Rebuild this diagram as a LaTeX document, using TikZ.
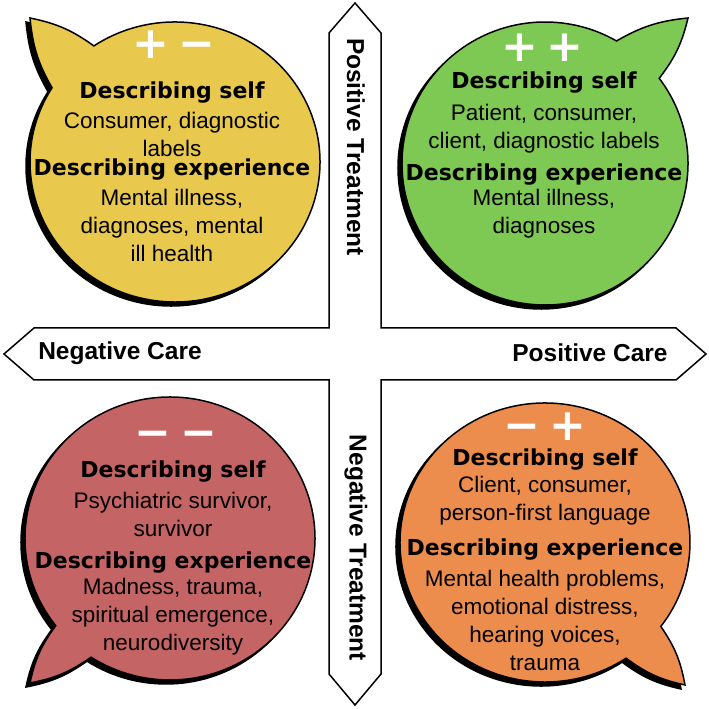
\documentclass[tikz,border=0pt]{standalone}
\usepackage{fontspec}
\setmainfont{Liberation Sans}
\newfontfamily\heavyfont{DejaVu Sans}
\usetikzlibrary{positioning}

\definecolor{quadyellow}{RGB}{233,200,78}
\definecolor{quadgreen}{RGB}{126,201,83}
\definecolor{quadred}{RGB}{197,100,100}
\definecolor{quadorange}{RGB}{236,141,77}

\begin{document}
\begin{tikzpicture}[x=1pt,y=1pt,
  head/.style={font=\heavyfont\bfseries\fontsize{22}{26}\selectfont, inner sep=0pt},
  body/.style={font=\fontsize{22.5}{28}\selectfont, align=center, inner sep=0pt},
  axis/.style={font=\bfseries\fontsize{24.5}{28}\selectfont, inner sep=0pt},
  sign/.style={font=\heavyfont\bfseries\fontsize{44}{44}\selectfont, text=white, inner sep=0pt}]
\useasboundingbox (0,0) rectangle (709,709);

% the cross of the two axes
\draw[line width=1.5pt, fill=white] (355,706) -- (381,676) -- (381,381) -- (676,381) -- (706,355) -- (676,329) -- (381,329) -- (381,35) -- (355,4) -- (329,35) -- (329,329) -- (34,329) -- (4,355) -- (34,381) -- (329,381) -- (329,676) -- cycle;

% speech bubbles: black shadow first, then the coloured one
\foreach \cx/\cy/\rx/\ry/\ta/\tb/\tx/\ty/\col in {175/547/145/140/124/148/30/691/quadyellow, 545/545.5/143/141.5/37/60/688/691/quadgreen, 170/170.5/145/141.5/218/237/30/26/quadred, 545/166.5/145/139.5/304/323/685/24/quadorange}
{
  \pgfmathsetmacro\da{\tb-\ta-360}
  \foreach \off/\fc in {-4/black,0/\col}
    \filldraw[fill=\fc, line width=1.5pt, shift={(\off,\off)}] ([shift={(\cx,\cy)}]\tb:\rx pt and \ry pt) to[bend left=12] (\tx,\ty) to[bend left=12] ([shift={(\cx,\cy)}]\ta:\rx pt and \ry pt) arc[start angle=\ta, delta angle=\da, x radius=\rx pt, y radius=\ry pt] -- cycle;
}

% axis labels
\node[axis] (negcare) at (120,356) {Negative Care};
\node[axis] (poscare) at (590,356) {Positive Care};
\node[axis, rotate=-90] (postreat) at (356,562) {Positive Treatment};
\node[axis, rotate=-90] (negtreat) at (356,161) {Negative Treatment};

% signs
\node[sign] (ysign) at (174,664) {\vphantom{+}+\kern9pt−};
\node[sign] (gsign) at (542.5,661) {\vphantom{+}+\kern9pt+};
\node[sign] (rsign) at (176,275.5) {\vphantom{+}−\kern9pt−};
\node[sign] (osign) at (545,282) {\vphantom{+}−\kern9pt+};

% top left
\node[head] (yself) at (172,616) {Describing self};
\node[body] (yselftxt) at (172,575) {Consumer, diagnostic\\labels};
\node[head] (yexp) at (172,539) {Describing experience};
\node[body] (yexptxt) at (172,484) {Mental illness,\\diagnoses, mental\\ill health};

% top right
\node[head] (gself) at (544,626) {Describing self};
\node[body] (gselftxt) at (544,580) {Patient, consumer,\\client, diagnostic labels};
\node[head] (gexp) at (544,534) {Describing experience};
\node[body] (gexptxt) at (544,495) {Mental illness,\\diagnoses};

% bottom left
\node[head] (rself) at (173,237) {Describing self};
\node[body] (rselftxt) at (173,195) {Psychiatric survivor,\\survivor};
\node[head] (rexp) at (173,146) {Describing experience};
\node[body] (rexptxt) at (173,92) {Madness, trauma,\\spiritual emergence,\\neurodiversity};

% bottom right
\node[head] (oself) at (545,249) {Describing self};
\node[body] (oselftxt) at (545,208) {Client, consumer,\\person-first language};
\node[head] (oexp) at (545,159) {Describing experience};
\node[body] (oexptxt) at (545,88.5) {Mental health problems,\\emotional distress,\\hearing voices,\\trauma};
\end{tikzpicture}
\end{document}
